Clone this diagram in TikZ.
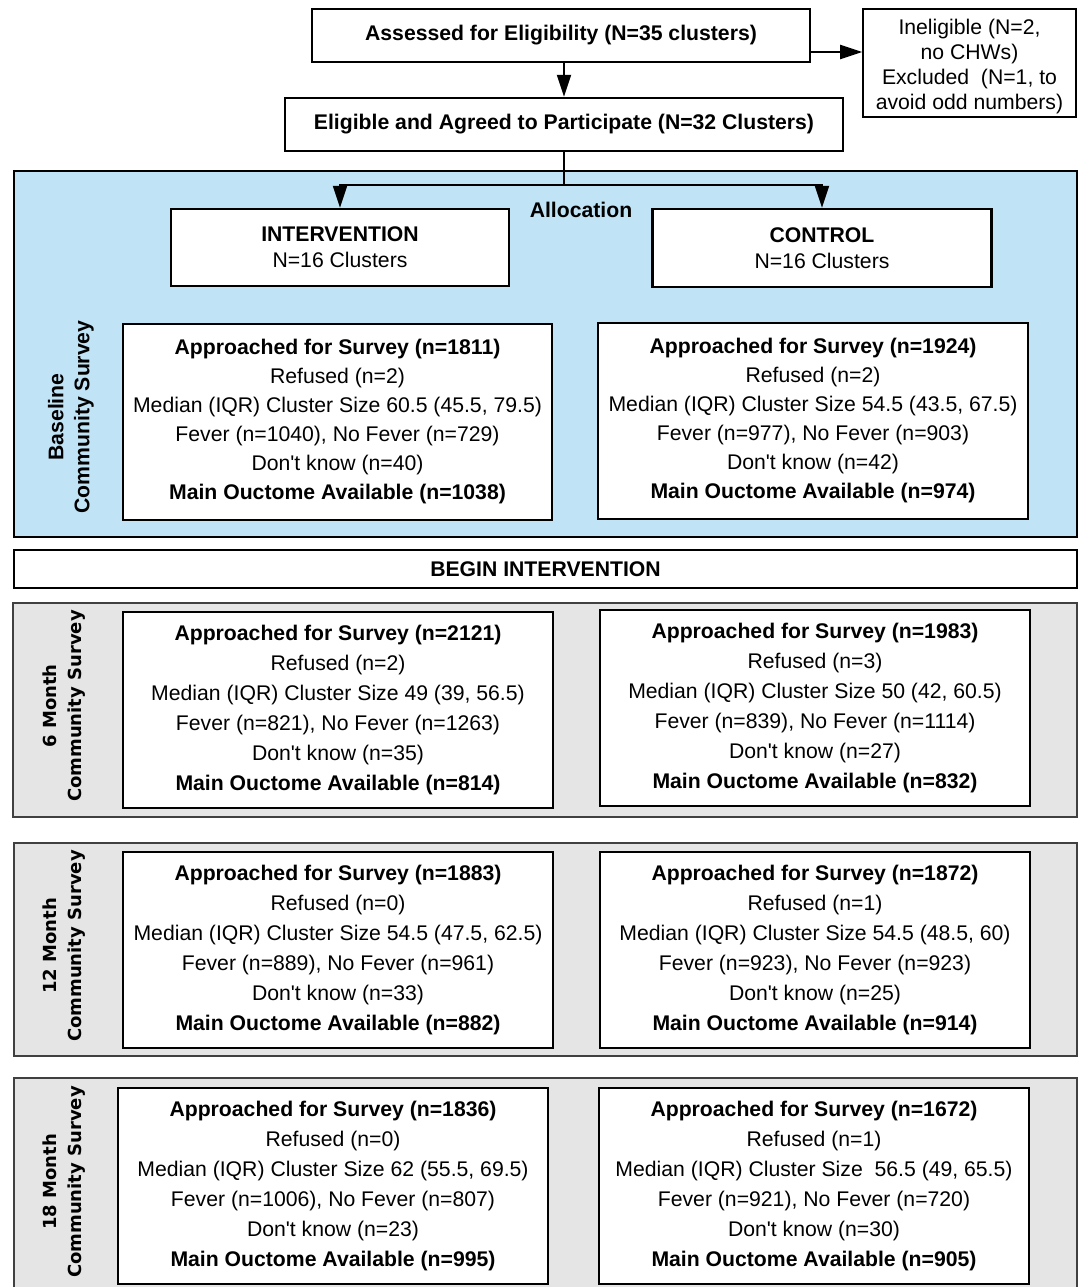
\documentclass[tikz,border=0pt]{standalone}
\usepackage{fontspec}
\setmainfont{Liberation Sans}[Ligatures=TeXOff]
\newfontfamily\sidefont{DejaVu Sans}
\usetikzlibrary{arrows.meta}
\definecolor{panelblue}{RGB}{192,227,245}
\definecolor{panelgray}{RGB}{229,229,229}
\begin{document}
\begin{tikzpicture}[x=0.5pt,y=-0.5pt,
		box/.style={draw=black,line width=1.2pt,fill=white,inner sep=0pt,align=center,font=\fontsize{10.6}{15}\selectfont},
		survey/.style={box,minimum width=215pt,minimum height=98pt},
		arr/.style={line width=1pt,-{Triangle[length=11pt,width=7pt]}},
		side/.style={rotate=90,align=center,font=\sidefont\bfseries\fontsize{9}{12.5}\selectfont},
		panel/.style={line width=1pt}]
		\useasboundingbox (0,0) rectangle (1079,1287);
		% Panels
		\draw[panel,fill=panelblue] (14,171) rectangle (1077,537);
		\draw[panel,draw=black!75,fill=panelgray] (13,603) rectangle (1077,817);
		\draw[panel,draw=black!75,fill=panelgray] (14,843) rectangle (1077,1056);
		\draw[panel,draw=black!75,fill=panelgray] (14,1078) rectangle (1077,1300);
		% Enrolment
		\node[box,font=\bfseries\fontsize{10.6}{15}\selectfont,minimum width=249pt,minimum height=26.5pt] (assess) at (561,35.5) {Assessed for Eligibility (N=35 clusters)};
		\node[box,line width=0.8pt,font=\fontsize{10.6}{12.5}\selectfont,minimum width=106.5pt,minimum height=54pt] (inelig) at (969.5,63) {\rule{0pt}{11.5pt}Ineligible (N=2,\\ no CHWs)\\ Excluded\ \ (N=1, to\\ avoid odd numbers)};
		\node[box,font=\bfseries\fontsize{10.6}{15}\selectfont,minimum width=279pt,minimum height=26.5pt] (elig) at (564,124.5) {Eligible and Agreed to Participate (N=32 Clusters)};
		\coordinate (q) at (810,52);
		\coordinate (split) at (564,185);
		\draw[arr] (q) -- (q -| inelig.west);
		\draw[arr] (elig.north |- assess.south) -- (elig.north);
		% Allocation
		\node[box,font=\fontsize{10.6}{13}\selectfont,minimum width=169pt,minimum height=38.5pt] (interv) at (340,247.5) {\textbf{INTERVENTION}\\ N=16 Clusters};
		\node[box,font=\fontsize{10.6}{13}\selectfont,minimum width=169.5pt,minimum height=39pt] (ctrl) at (822,248) {\textbf{CONTROL}\\ N=16 Clusters};
		\node[font=\bfseries\fontsize{10.6}{13}\selectfont] (alloc) at (581,210) {Allocation};
		\draw[line width=1pt] (elig.south) -- (split);
		\draw[arr] (split) -| (interv.north);
		\draw[arr] (split) -| (ctrl.north);
		% Baseline
		\node[side,font=\bfseries\fontsize{10.6}{13}\selectfont] (lbase) at (71,417) {Baseline\\ Community Survey};
		\node[survey,font=\fontsize{10.6}{14.5}\selectfont,minimum width=214.5pt] (baseL) at (337.5,422) {\textbf{Approached for Survey (n=1811)}\\ Refused (n=2)\\ Median (IQR) Cluster Size 60.5 (45.5, 79.5)\\ Fever (n=1040), No Fever (n=729)\\ Don't know (n=40)\\ \textbf{Main Ouctome Available (n=1038)}};
		\node[survey,font=\fontsize{10.6}{14.5}\selectfont] (baseR) at (813,421) {\textbf{Approached for Survey (n=1924)}\\ Refused (n=2)\\ Median (IQR) Cluster Size 54.5 (43.5, 67.5)\\ Fever (n=977), No Fever (n=903)\\ Don't know (n=42)\\ \textbf{Main Ouctome Available (n=974)}};
		\node[box,font=\bfseries\fontsize{10.6}{15}\selectfont,minimum width=531.5pt,minimum height=19pt] (begin) at (545.5,569) {BEGIN INTERVENTION};
		% 6 months
		\node[side] (l6) at (64.5,706) {6 Month\\ Community Survey};
		\node[survey] (m6L) at (338,710) {\textbf{Approached for Survey (n=2121)}\\ Refused (n=2)\\ Median (IQR) Cluster Size 49 (39, 56.5)\\ Fever (n=821), No Fever (n=1263)\\ Don't know (n=35)\\ \textbf{Main Ouctome Available (n=814)}};
		\node[survey] (m6R) at (815,708) {\textbf{Approached for Survey (n=1983)}\\ Refused (n=3)\\ Median (IQR) Cluster Size 50 (42, 60.5)\\ Fever (n=839), No Fever (n=1114)\\ Don't know (n=27)\\ \textbf{Main Ouctome Available (n=832)}};
		% 12 months
		\node[side] (l12) at (64.5,946) {12 Month\\ Community Survey};
		\node[survey] (m12L) at (338,950) {\textbf{Approached for Survey (n=1883)}\\ Refused (n=0)\\ Median (IQR) Cluster Size 54.5 (47.5, 62.5)\\ Fever (n=889), No Fever (n=961)\\ Don't know (n=33)\\ \textbf{Main Ouctome Available (n=882)}};
		\node[survey] (m12R) at (815,950) {\textbf{Approached for Survey (n=1872)}\\ Refused (n=1)\\ Median (IQR) Cluster Size 54.5 (48.5, 60)\\ Fever (n=923), No Fever (n=923)\\ Don't know (n=25)\\ \textbf{Main Ouctome Available (n=914)}};
		% 18 months
		\node[side] (l18) at (64.5,1182) {18 Month\\ Community Survey};
		\node[survey] (m18L) at (333,1186) {\textbf{Approached for Survey (n=1836)}\\ Refused (n=0)\\ Median (IQR) Cluster Size 62 (55.5, 69.5)\\ Fever (n=1006), No Fever (n=807)\\ Don't know (n=23)\\ \textbf{Main Ouctome Available (n=995)}};
		\node[survey] (m18R) at (814,1186) {\textbf{Approached for Survey (n=1672)}\\ Refused (n=1)\\ Median (IQR) Cluster Size\ \ 56.5 (49, 65.5)\\ Fever (n=921), No Fever (n=720)\\ Don't know (n=30)\\ \textbf{Main Ouctome Available (n=905)}};
	\end{tikzpicture}
\end{document}
